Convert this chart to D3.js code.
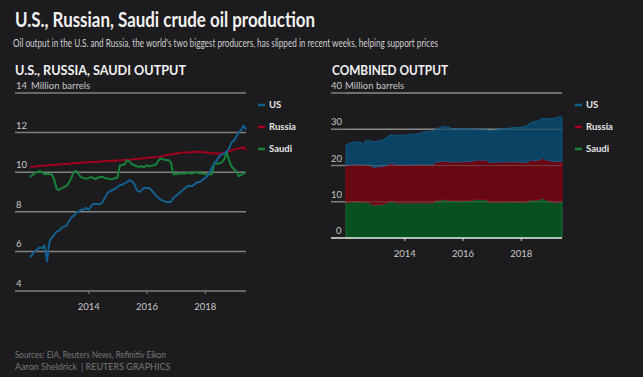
<!DOCTYPE html>
<meta charset="utf-8">
<style>
body { margin: 0; background: #1c1b1e; }
svg { display: block; font-family: "Lato", "Noto Sans", sans-serif; }
.title { fill: #f2f2f2; font-size: 20.5px; font-weight: 700; }
.subtitle { fill: #d0d0d0; font-size: 11px; }
.section { fill: #f2f2f2; font-size: 12.5px; font-weight: 700; }
.grid line { stroke: #808080; stroke-width: 1.5; }
.ylab { fill: #c8c8c8; font-size: 9.5px; }
.xaxis text { fill: #c8c8c8; font-size: 9.5px; font-family: "Lato", sans-serif; }
.xaxis path { display: none; }
.legend text { fill: #e6e6e6; font-size: 9.5px; font-weight: 700; }
.source { fill: #7a7a7a; font-size: 9.5px; }
.credit { fill: #7a7a7a; font-size: 9px; }
</style>
<svg class="canvas"></svg>
<script src="https://cdn.jsdelivr.net/npm/d3@7"></script>
<script>

// monthly, Jan 2012 - Jun 2019, million barrels per day
var us = [5.7,5.85,6.0,6.1,6.2,6.15,6.3,5.5,6.5,6.7,
	6.85,7.0,7.05,7.2,7.25,7.3,7.5,7.7,7.8,7.95,
	8.0,8.1,8.1,8.2,8.1,8.25,8.4,8.4,8.4,8.4,
	8.5,8.75,8.95,9.05,9.1,9.15,9.25,9.35,9.35,9.45,
	9.5,9.6,9.55,9.4,9.1,9.0,9.1,9.2,9.2,9.2,
	9.1,8.95,8.8,8.7,8.6,8.55,8.5,8.5,8.5,8.7,
	8.8,8.9,9.0,9.1,9.2,9.3,9.3,9.3,9.4,9.5,
	9.5,9.6,9.7,9.8,10.0,10.25,10.45,10.6,10.8,10.9,
	10.95,11.05,11.2,11.5,11.6,11.8,12.0,12.15,12.35,12.15];

var russia = [10.27,10.28,10.29,10.30,10.31,10.32,10.33,10.34,10.35,10.36,
	10.37,10.38,10.39,10.40,10.41,10.42,10.43,10.44,10.45,10.46,
	10.47,10.48,10.49,10.49,10.50,10.51,10.52,10.52,10.53,10.54,
	10.55,10.55,10.56,10.57,10.58,10.58,10.59,10.60,10.61,10.62,
	10.62,10.63,10.64,10.65,10.67,10.68,10.69,10.70,10.72,10.73,
	10.74,10.75,10.76,10.77,10.80,10.83,10.86,10.88,10.90,10.92,
	10.94,10.96,10.98,10.99,11.0,11.0,11.01,11.02,11.02,11.03,
	11.03,11.02,11.0,10.99,10.97,10.96,10.95,10.94,10.94,10.96,
	10.99,11.02,11.06,11.1,11.14,11.17,11.2,11.23,11.25,11.1];

var saudi = [9.76,9.85,9.95,10.0,10.05,10.0,9.9,9.92,9.9,9.9,
	9.6,9.15,9.1,9.2,9.25,9.3,9.45,9.7,10.0,10.07,
	9.9,9.75,9.7,9.68,9.7,9.75,9.72,9.65,9.73,9.76,
	9.76,9.7,9.68,9.65,9.66,9.7,9.72,10.35,10.35,10.4,
	10.6,10.55,10.4,10.35,10.3,10.28,10.3,10.25,10.35,10.3,
	10.32,10.35,10.4,10.6,10.7,10.65,10.6,10.62,10.5,9.9,
	9.9,9.93,9.93,9.95,9.93,9.98,9.93,9.95,10.0,9.97,
	9.93,9.95,9.9,9.88,9.9,9.9,10.5,10.42,10.45,10.5,
	10.65,11.0,10.6,10.3,10.15,10.05,9.8,9.85,9.95,10.0];

var seriesNames = ["US", "Russia", "Saudi"];
var lineColors = ["#13608f", "#a3001e", "#17823a"];
var areaColors = ["#0b4364", "#670812", "#08501f"];
var leftTicks = [4, 6, 8, 10, 12, 14];
var rightTicks = [0, 10, 20, 30, 40];
var yearTicks = [2014, 2016, 2018];

var width = 643,
	height = 377;

var months = us.map(function(d, i) { return new Date(2012, i, 1); });
var rows = months.map(function(m, i) {
	return { date: m, US: us[i], Russia: russia[i], Saudi: saudi[i] };
});

var canvas = d3.select(".canvas")
	.attr("width", width)
	.attr("height", height);

canvas.append("rect").attr("width", width).attr("height", height).attr("fill", "#1c1b1e");

canvas.append("text").attr("class", "title")
	.attr("x", 15).attr("y", 27)
	.attr("textLength", 300).attr("lengthAdjust", "spacingAndGlyphs")
	.text("U.S., Russian, Saudi crude oil production");

canvas.append("text").attr("class", "subtitle")
	.attr("x", 13).attr("y", 47)
	.attr("textLength", 425).attr("lengthAdjust", "spacingAndGlyphs")
	.text("Oil output in the U.S. and Russia, the world's two biggest producers, has slipped in recent weeks, helping support prices");

// ---- left panel: lines ----
var x1 = d3.scaleTime().domain([months[0], months[months.length - 1]]).range([30, 246]);
var y1 = d3.scaleLinear().domain([4, 14]).range([291, 93]);

canvas.append("text").attr("class", "section")
	.attr("x", 15).attr("y", 75)
	.attr("textLength", 171).attr("lengthAdjust", "spacingAndGlyphs")
	.text("U.S., RUSSIA, SAUDI OUTPUT");

var g1 = canvas.append("g").attr("class", "grid");
g1.selectAll("line").data(leftTicks).enter().append("line")
	.attr("x1", 15).attr("x2", 246)
	.attr("y1", function(d) { return y1(d); })
	.attr("y2", function(d) { return y1(d); });

canvas.selectAll(".ylab1").data(leftTicks).enter().append("text")
	.attr("class", "ylab")
	.attr("x", 16)
	.attr("y", function(d) { return y1(d) - 4; })
	.text(function(d) { return d; });
canvas.append("text").attr("class", "ylab")
	.attr("x", 31).attr("y", y1(14) - 4)
	.text("Million barrels");

var xAxis1 = canvas.append("g").attr("class", "xaxis")
	.attr("transform", "translate(0," + y1(4) + ")")
	.call(d3.axisBottom(x1)
		.tickValues(yearTicks.map(function(y) { return new Date(y, 0, 1); }))
		.tickSize(3).tickPadding(9)
		.tickFormat(d3.timeFormat("%Y")));
xAxis1.selectAll("line").attr("stroke", "#808080");

var lineGen = function(key) {
	return d3.line()
		.x(function(d) { return x1(d.date); })
		.y(function(d) { return y1(d[key]); });
};

["Russia", "Saudi", "US"].forEach(function(key) {
	var i = seriesNames.indexOf(key);
	canvas.append("path").datum(rows)
		.attr("fill", "none")
		.attr("stroke", lineColors[i])
		.attr("stroke-width", 2)
		.attr("stroke-linejoin", "round")
		.attr("d", lineGen(key));
});

var legend1 = canvas.selectAll(".leg1").data(seriesNames).enter().append("g")
	.attr("class", "legend")
	.attr("transform", function(d, i) { return "translate(258," + (105 + i * 22) + ")"; });
legend1.append("line").attr("x1", 0).attr("x2", 7)
	.attr("stroke", function(d, i) { return lineColors[i]; }).attr("stroke-width", 2.5);
legend1.append("text").attr("x", 11).attr("dy", "0.35em").text(function(d) { return d; });

// ---- right panel: stacked areas ----
var x2 = d3.scaleTime().domain([months[0], months[months.length - 1]]).range([346, 562]);
var y2 = d3.scaleLinear().domain([0, 40]).range([238, 93]);

canvas.append("text").attr("class", "section")
	.attr("x", 332).attr("y", 75)
	.attr("textLength", 116).attr("lengthAdjust", "spacingAndGlyphs")
	.text("COMBINED OUTPUT");

var g2 = canvas.append("g").attr("class", "grid");
g2.selectAll("line").data(rightTicks.slice(1)).enter().append("line")
	.attr("x1", 331).attr("x2", 562)
	.attr("y1", function(d) { return y2(d); })
	.attr("y2", function(d) { return y2(d); });

var stack = d3.stack().keys(["Saudi", "Russia", "US"]);
var layers = stack(rows);

var area = d3.area()
	.x(function(d) { return x2(d.data.date); })
	.y0(function(d) { return y2(d[0]); })
	.y1(function(d) { return y2(d[1]); });

canvas.selectAll(".layer").data(layers).enter().append("path")
	.attr("class", "layer")
	.attr("fill", function(d) { return areaColors[seriesNames.indexOf(d.key)]; })
	.attr("stroke", function(d) { return lineColors[seriesNames.indexOf(d.key)]; })
	.attr("stroke-width", 0.8)
	.attr("d", area);

// faint grid over the areas
canvas.append("g").selectAll("line").data(rightTicks.slice(1)).enter().append("line")
	.attr("x1", 346).attr("x2", 562)
	.attr("y1", function(d) { return y2(d); })
	.attr("y2", function(d) { return y2(d); })
	.attr("stroke", "#9a9a9a").attr("stroke-opacity", 0.35).attr("stroke-width", 1.2);

canvas.selectAll(".ylab2").data(rightTicks).enter().append("text")
	.attr("class", "ylab")
	.attr("x", function(d) { return d == 0 ? 336 : 331; })
	.attr("y", function(d) { return y2(d) - 4; })
	.text(function(d) { return d; });
canvas.append("text").attr("class", "ylab")
	.attr("x", 345).attr("y", y2(40) - 4)
	.text("Million barrels");

var xAxis2 = canvas.append("g").attr("class", "xaxis")
	.attr("transform", "translate(0," + y2(0) + ")")
	.call(d3.axisBottom(x2)
		.tickValues(yearTicks.map(function(y) { return new Date(y, 0, 1); }))
		.tickSize(3).tickPadding(9)
		.tickFormat(d3.timeFormat("%Y")));
xAxis2.selectAll("line").attr("stroke", "#cfcfcf");
canvas.append("line").attr("x1", 331).attr("x2", 562)
	.attr("y1", y2(0)).attr("y2", y2(0))
	.attr("stroke", "#e8e8e8").attr("stroke-width", 1.5);

var legend2 = canvas.selectAll(".leg2").data(seriesNames).enter().append("g")
	.attr("class", "legend")
	.attr("transform", function(d, i) { return "translate(575," + (105 + i * 22) + ")"; });
legend2.append("line").attr("x1", 0).attr("x2", 7)
	.attr("stroke", function(d, i) { return lineColors[i]; }).attr("stroke-width", 2.5);
legend2.append("text").attr("x", 11).attr("dy", "0.35em").text(function(d) { return d; });

// ---- footer ----
canvas.append("text").attr("class", "source")
	.attr("x", 15).attr("y", 358)
	.attr("textLength", 151).attr("lengthAdjust", "spacingAndGlyphs")
	.text("Sources: EIA, Reuters News, Refinitiv Eikon");
var credit = canvas.append("text").attr("class", "credit")
	.attr("y", 370);
credit.append("tspan").attr("x", 15).text("Aaron Sheldrick");
credit.append("tspan").attr("x", 81).text("| REUTERS GRAPHICS");

</script>
